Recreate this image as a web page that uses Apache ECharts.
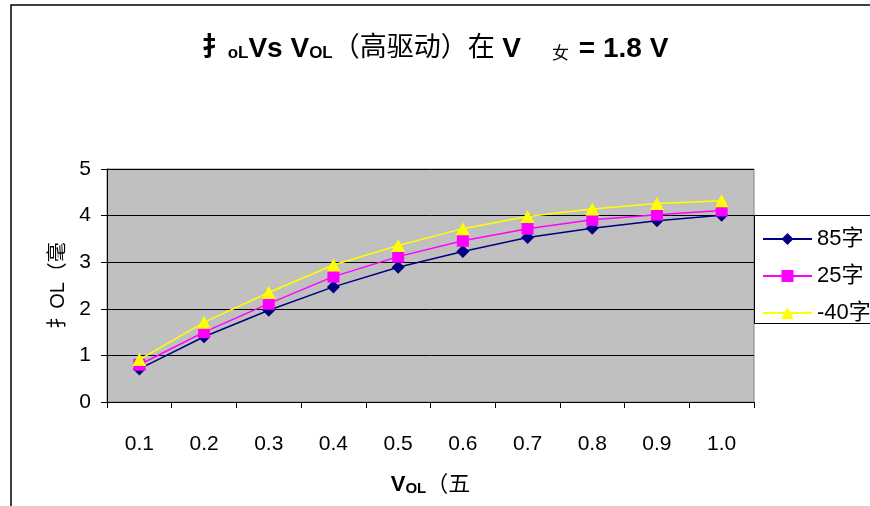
<!DOCTYPE html>
<html>
<head>
<meta charset="utf-8">
<script src="https://cdn.jsdelivr.net/npm/echarts@6/dist/echarts.min.js"></script>
<style>
  html, body { margin: 0; padding: 0; background: #fff; }
  #chart { width: 870px; height: 506px; }
</style>
</head>
<body>
<div id="chart"></div>
<script>
// Drive current vs. output voltage at three temperatures
const categories = ['0.1', '0.2', '0.3', '0.4', '0.5', '0.6', '0.7', '0.8', '0.9', '1.0'];
const seriesNames = ['85字', '25字', '-40字'];
const values85 = [0.71, 1.40, 1.97, 2.47, 2.89, 3.23, 3.53, 3.73, 3.89, 4.01];
const values25 = [0.80, 1.50, 2.11, 2.69, 3.12, 3.46, 3.72, 3.91, 4.02, 4.11];
const valuesM40 = [0.91, 1.71, 2.35, 2.94, 3.36, 3.72, 3.98, 4.14, 4.26, 4.32];
const yTicks = [0, 1, 2, 3, 4, 5];

const latin = 'Liberation Sans, Arial, sans-serif';
const cjk = '"Liberation Sans", "Noto Sans CJK SC", sans-serif';

const chart = echarts.init(document.getElementById('chart'), null, { renderer: 'canvas' });

chart.setOption({
  backgroundColor: '#ffffff',
  animation: false,
  title: {
    text: '{k|扌}{s|oL}{b|Vs V}{s|OL}{c|（高驱动）在 }{b|V    }{z|女}{b| = 1.8 V}',
    left: 'center',
    top: 30,
    padding: [5, 0, 5, 14],
    textStyle: {
      rich: {
        k: { fontFamily: cjk, fontWeight: 'bold', fontSize: 26, color: '#000' },
        b: { fontFamily: cjk, fontWeight: 'bold', fontSize: 28, color: '#000' },
        s: { fontFamily: latin, fontWeight: 'bold', fontSize: 17, color: '#000', padding: [9, 0, 0, 0] },
        c: { fontFamily: cjk, fontWeight: 'normal', fontSize: 27, color: '#000' },
        z: { fontFamily: cjk, fontWeight: 'normal', fontSize: 17, color: '#000', padding: [11, 2, 0, 0] }
      }
    }
  },
  graphic: [
    {
      type: 'rect',
      shape: { x: 11, y: 5, width: 900, height: 560 },
      style: { fill: 'none', stroke: '#000', lineWidth: 1.5 },
      silent: true,
      z: -1
    },
    {
      type: 'rect',
      shape: { x: 754.5, y: 215.5, width: 200, height: 108 },
      style: { fill: '#fff', stroke: '#000', lineWidth: 1 },
      silent: true,
      z: 5
    }
  ],
  legend: {
    orient: 'vertical',
    left: 762,
    top: 228,
    itemWidth: 49,
    itemHeight: 15,
    itemGap: 15,
    padding: 0,
    z: 10,
    textStyle: { fontFamily: cjk, fontSize: 22, color: '#000' },
    data: seriesNames
  },
  grid: {
    left: 107,
    right: 116,
    top: 169,
    bottom: 104,
    show: true,
    backgroundColor: '#c0c0c0',
    borderColor: '#808080',
    borderWidth: 1,
    containLabel: false
  },
  xAxis: {
    type: 'category',
    data: categories,
    boundaryGap: true,
    name: '{b|V}{s|OL}{c|（五}',
    nameLocation: 'middle',
    nameGap: 72,
    nameTextStyle: {
      rich: {
        b: { fontFamily: latin, fontWeight: 'bold', fontSize: 22, color: '#000' },
        s: { fontFamily: latin, fontWeight: 'bold', fontSize: 15, color: '#000', padding: [7, 0, 0, 0] },
        c: { fontFamily: cjk, fontSize: 22, color: '#000' }
      }
    },
    axisLine: { show: true, lineStyle: { color: '#000', width: 1 } },
    axisTick: { show: true, inside: false, length: 6, alignWithLabel: false, lineStyle: { color: '#000' } },
    axisLabel: { fontFamily: latin, fontSize: 21, color: '#000', margin: 32 },
    splitLine: { show: false }
  },
  yAxis: {
    type: 'value',
    min: yTicks[0],
    max: yTicks[yTicks.length - 1],
    interval: 1,
    name: '扌OL（毫',
    nameLocation: 'middle',
    nameGap: 29,
    nameRotate: 90,
    nameTextStyle: { fontFamily: cjk, fontSize: 20, color: '#000' },
    axisLine: { show: true, lineStyle: { color: '#000', width: 1 } },
    axisTick: { show: true, length: 6, lineStyle: { color: '#000' } },
    axisLabel: { fontFamily: latin, fontSize: 21, color: '#000', margin: 16 },
    splitLine: { show: true, lineStyle: { color: '#000', width: 1 } }
  },
  series: [
    {
      name: seriesNames[0],
      type: 'line',
      data: values85,
      symbol: 'diamond',
      symbolSize: 13,
      color: '#000080',
      lineStyle: { color: '#000080', width: 1.5 },
      itemStyle: { color: '#000080' },
      z: 3
    },
    {
      name: seriesNames[1],
      type: 'line',
      data: values25,
      symbol: 'rect',
      symbolSize: 12,
      color: '#ff00ff',
      lineStyle: { color: '#ff00ff', width: 1.5 },
      itemStyle: { color: '#ff00ff' },
      z: 4
    },
    {
      name: seriesNames[2],
      type: 'line',
      data: valuesM40,
      symbol: 'triangle',
      symbolSize: [14, 13],
      color: '#ffff00',
      lineStyle: { color: '#ffff00', width: 1.5 },
      itemStyle: { color: '#ffff00' },
      z: 5
    }
  ]
});
</script>
</body>
</html>
